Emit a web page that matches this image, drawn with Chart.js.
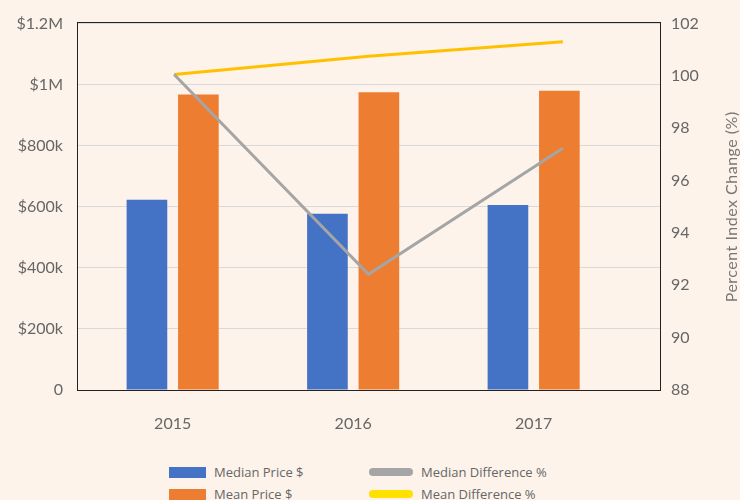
<!DOCTYPE html>
<html>
<head>
<meta charset="utf-8">
<script src="https://cdn.jsdelivr.net/npm/chart.js@4.4.1/dist/chart.umd.min.js"></script>
<style>
  html, body { margin: 0; padding: 0; background: #fdf3ea; }
  body { width: 740px; height: 500px; overflow: hidden; position: relative; }
  canvas { position: absolute; left: 0; top: 0; }
  #lines { pointer-events: none; }
  #legend {
    position: absolute; left: 169px; top: 462px;
    display: grid; grid-template-columns: 200px 220px; row-gap: 2px;
    font-family: 'Open Sans', sans-serif; font-size: 13px; color: #666;
  }
  .item { display: flex; align-items: center; height: 20px; white-space: nowrap; }
  .box { width: 37px; height: 11px; margin-right: 8px; }
  .line { width: 44px; height: 8px; border-radius: 4px; margin-right: 8px; }
</style>
</head>
<body>
<canvas id="bars" width="740" height="440"></canvas>
<canvas id="lines" width="740" height="440"></canvas>
<div id="legend"></div>
<script>
const years = ['2015', '2016', '2017'];
const medianPrice = [623000, 577000, 606000];
const meanPrice = [968000, 975000, 980000];
const medianDiff = [100.0, 92.4, 97.2];
const meanDiff = [100.0, 100.7, 101.25];
const priceTicks = [0, 200000, 400000, 600000, 800000, 1000000, 1200000];

const tickFont = { family: 'Lato', size: 16 };
const tickColor = '#666';
// plot area is the same for both charts
const area = { left: 77, top: 22, right: 80, bottom: 50 };

function money(v) {
    if (v === 0) return '0';
    if (v >= 1000000) return '$' + (v / 1000000) + 'M';
    return '$' + (v / 1000) + 'k';
}

// right axis title, reads bottom to top
const sideTitle = {
    id: 'sideTitle',
    afterDraw(chart) {
        const { ctx, chartArea: a } = chart;
        ctx.save();
        ctx.translate(732, (a.top + a.bottom) / 2);
        ctx.rotate(-Math.PI / 2);
        ctx.font = '16px Lato';
        ctx.letterSpacing = '0.5px';
        ctx.fillStyle = '#777';
        ctx.textAlign = 'center';
        ctx.textBaseline = 'middle';
        ctx.fillText('Percent Index Change (%)', 0, 0);
        ctx.restore();
    }
};

// frame round the plot area, drawn over the lines too
const frame = {
    id: 'frame',
    afterDatasetsDraw(chart) {
        const { ctx, chartArea: a } = chart;
        ctx.save();
        ctx.strokeStyle = '#222';
        ctx.lineWidth = 1;
        ctx.strokeRect(a.left + 0.5, a.top + 0.5, a.right - a.left, a.bottom - a.top);
        ctx.restore();
    }
};

// bars and all the visible axes
const barChart = new Chart(document.getElementById('bars'), {
    type: 'bar',
    data: {
        datasets: [
            {
                label: 'Median Price $',
                data: medianPrice.map((v, i) => ({ x: i, y: v })),
                backgroundColor: '#4472c4',
            },
            {
                label: 'Mean Price $',
                data: meanPrice.map((v, i) => ({ x: i, y: v })),
                backgroundColor: '#ed7d31',
            },
        ],
    },
    options: {
        responsive: false,
        animation: false,
        categoryPercentage: 0.57,
        barPercentage: 0.79,
        layout: { padding: { top: area.top, bottom: 0, left: 0, right: 0 } },
        plugins: {
            legend: { display: false },
            tooltip: { enabled: false },
        },
        scales: {
            x: {
                type: 'linear',
                min: -0.53,
                max: 2.7,
                offset: false,
                grid: { display: false },
                border: { display: false },
                afterBuildTicks: s => { s.ticks = years.map((_, i) => ({ value: i })); },
                ticks: {
                    callback: v => years[v],
                    font: tickFont,
                    color: tickColor,
                    padding: 16,
                    maxRotation: 0,
                },
                afterFit: s => { s.height = area.bottom; },
            },
            y: {
                position: 'left',
                min: 0,
                max: 1200000,
                afterBuildTicks: s => { s.ticks = priceTicks.map(v => ({ value: v })); },
                grid: { color: '#d9d9d9', drawTicks: false },
                border: { display: false },
                ticks: { callback: money, font: tickFont, color: tickColor, padding: 14 },
                afterFit: s => { s.width = area.left; },
            },
            y1: {
                position: 'right',
                min: 88,
                max: 102,
                grid: { display: false, drawTicks: false },
                border: { display: false },
                ticks: { stepSize: 2, font: tickFont, color: tickColor, padding: 11 },
                afterFit: s => { s.width = area.right; },
            },
        },
    },
    plugins: [sideTitle],
});

// the two percent lines, on their own category axis over the same plot area
const lineChart = new Chart(document.getElementById('lines'), {
    type: 'line',
    data: {
        labels: years,
        datasets: [
            {
                label: 'Median Difference %',
                data: medianDiff,
                borderColor: '#a5a5a5',
                backgroundColor: '#a5a5a5',
                borderWidth: 3,
                pointRadius: 0,
            },
            {
                label: 'Mean Difference %',
                data: meanDiff,
                borderColor: '#ffc000',
                backgroundColor: '#ffe100',
                borderWidth: 3,
                pointRadius: 0,
            },
        ],
    },
    options: {
        responsive: false,
        animation: false,
        layout: { padding: area },
        plugins: {
            legend: { display: false },
            tooltip: { enabled: false },
        },
        scales: {
            x: { type: 'category', display: false, offset: true },
            y: { display: false, min: 88, max: 102 },
        },
    },
    plugins: [frame],
});

// legend in two columns, as in the original
const legendItems = [
    [barChart.data.datasets[0], 'box'],
    [lineChart.data.datasets[0], 'line'],
    [barChart.data.datasets[1], 'box'],
    [lineChart.data.datasets[1], 'line'],
];
const legend = document.getElementById('legend');
legendItems.forEach(([ds, kind]) => {
    const item = document.createElement('div');
    item.className = 'item';
    const sw = document.createElement('span');
    sw.className = kind;
    sw.style.background = ds.backgroundColor;
    const txt = document.createElement('span');
    txt.textContent = ds.label;
    item.appendChild(sw);
    item.appendChild(txt);
    legend.appendChild(item);
});
</script>
</body>
</html>
